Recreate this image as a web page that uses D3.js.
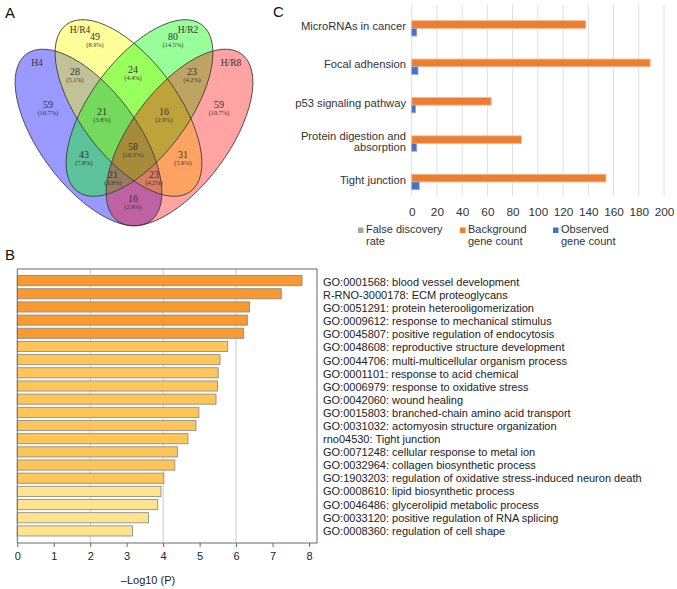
<!DOCTYPE html>
<html><head><meta charset="utf-8">
<script src="https://cdn.jsdelivr.net/npm/d3@7"></script>
<style>body{margin:0;background:#fff}svg{display:block}</style>
</head><body>
<svg id="chart" width="677" height="589"></svg>
<script>
// ---------- Panel A data (Venn) ----------
const vennSets = ["H4", "H/R4", "H/R2", "H/R8"];
const vennRegions = ["1", "2", "3", "4", "12", "23", "34", "123", "234", "1234", "13", "24", "134", "124", "14"];
const vennCounts = [59, 49, 80, 59, 28, 24, 23, 21, 16, 58, 43, 31, 21, 23, 16];

// ---------- Panel B data (GO enrichment) ----------
const goTerms = [
  "GO:0001568: blood vessel development",
  "R-RNO-3000178: ECM proteoglycans",
  "GO:0051291: protein heterooligomerization",
  "GO:0009612: response to mechanical stimulus",
  "GO:0045807: positive regulation of endocytosis",
  "GO:0048608: reproductive structure development",
  "GO:0044706: multi-multicellular organism process",
  "GO:0001101: response to acid chemical",
  "GO:0006979: response to oxidative stress",
  "GO:0042060: wound healing",
  "GO:0015803: branched-chain amino acid transport",
  "GO:0031032: actomyosin structure organization",
  "rno04530: Tight junction",
  "GO:0071248: cellular response to metal ion",
  "GO:0032964: collagen biosynthetic process",
  "GO:1903203: regulation of oxidative stress-induced neuron death",
  "GO:0008610: lipid biosynthetic process",
  "GO:0046486: glycerolipid metabolic process",
  "GO:0033120: positive regulation of RNA splicing",
  "GO:0008360: regulation of cell shape"
];
const goLogP = [7.81, 7.24, 6.37, 6.31, 6.21, 5.77, 5.56, 5.51, 5.49, 5.45,
                4.98, 4.90, 4.68, 4.39, 4.32, 4.02, 3.94, 3.85, 3.60, 3.16];
const bTicks = [0, 1, 2, 3, 4, 5, 6, 7, 8];
const bGrid = [2, 4, 6];

// ---------- Panel C data (KEGG) ----------
const keggCategories = ["MicroRNAs in cancer", "Focal adhension", "p53 signaling pathway",
                        "Protein digestion and absorption", "Tight junction"];
const cSeries = ["False discovery rate", "Background gene count", "Observed gene count"];
const fdrValues = [0.01, 0.01, 0.02, 0.02, 0.01];
const backgroundCounts = [138, 189, 63, 87, 154];
const observedCounts = [4, 5, 3, 4, 6];
const cTicks = [0, 20, 40, 60, 80, 100, 120, 140, 160, 180, 200];

const svg = d3.select("#chart");
const SANS = "'Liberation Sans', Arial, Helvetica, sans-serif";
const SERIF = "'Liberation Serif', 'Times New Roman', serif";

// panel letters
[["A", 5, 18], ["B", 5, 260], ["C", 273, 17]].forEach(([t, x, y]) =>
  svg.append("text").attr("x", x).attr("y", y).attr("font-family", SANS)
     .attr("font-size", 15).attr("fill", "#111").text(t));

// ================= Panel A =================
const gA = svg.append("g");
const ellipseLayout = [
  {cx: 88.5, cy: 137.5, rot: 53.3, fill: "#0000ff", op: 0.4},
  {cx: 128.5, cy: 108, rot: 53.3, fill: "#ffff00", op: 0.4},
  {cx: 139.5, cy: 108, rot: -53.3, fill: "#00ff00", op: 0.4},
  {cx: 179.5, cy: 137.5, rot: -53.3, fill: "#ff0000", op: 0.36}
];
const RX = 104, RY = 48.7;
gA.selectAll("ellipse.fill").data(ellipseLayout).join("ellipse")
  .attr("class", "fill")
  .attr("cx", 0).attr("cy", 0).attr("rx", RX).attr("ry", RY)
  .attr("transform", d => `translate(${d.cx},${d.cy}) rotate(${d.rot})`)
  .attr("fill", d => d.fill).attr("fill-opacity", d => d.op);
gA.selectAll("ellipse.outline").data(ellipseLayout).join("ellipse")
  .attr("class", "outline")
  .attr("cx", 0).attr("cy", 0).attr("rx", RX).attr("ry", RY)
  .attr("transform", d => `translate(${d.cx},${d.cy}) rotate(${d.rot})`)
  .attr("fill", "none").attr("stroke", "#3a3a3a").attr("stroke-width", 0.8);

const setLabelPos = [[37, 63], [80, 30], [188, 30], [231, 63]];
gA.selectAll("text.set").data(vennSets).join("text")
  .attr("class", "set")
  .attr("x", (d, i) => setLabelPos[i][0]).attr("y", (d, i) => setLabelPos[i][1])
  .attr("dy", "0.35em").attr("text-anchor", "middle")
  .attr("font-family", SERIF).attr("font-size", 9.5).attr("fill", "#333").text(d => d);

const regionPos = {
  "1": [48, 105], "2": [95, 37], "3": [173, 37], "4": [219, 105],
  "12": [75, 72], "23": [133, 70], "34": [192, 72],
  "123": [102, 112], "234": [164, 112], "1234": [133, 147],
  "13": [84, 155], "24": [183, 155], "134": [113, 175], "124": [154, 175], "14": [133, 199]
};
const total = d3.sum(vennCounts);
const pct = d3.format(".1%");
vennRegions.forEach((r, i) => {
  const [x, y] = regionPos[r];
  gA.append("text").attr("x", x).attr("y", y - 0.5).attr("dy", "0.35em")
    .attr("text-anchor", "middle").attr("font-family", SERIF).attr("font-size", 10)
    .attr("fill", "#333").text(vennCounts[i]);
  gA.append("text").attr("x", x).attr("y", y + 7.8).attr("dy", "0.35em")
    .attr("text-anchor", "middle").attr("font-family", SERIF).attr("font-size", 6.3)
    .attr("fill", "#333").text("(" + pct(vennCounts[i] / total) + ")");
});

// ================= Panel B =================
const gB = svg.append("g");
const bLeft = 17.3, bRight = 317, bTop = 269, bBottom = 543;
const bx = d3.scaleLinear().domain([0, 8.22]).range([bLeft, bRight]);
const by = d3.scaleBand().domain(d3.range(goTerms.length)).range([274, 537.5])
  .paddingInner(0.23).paddingOuter(0.115);
const bColor = d3.scaleThreshold().domain([4, 6]).range(["#FFE48F", "#FEC559", "#F89A30"]);

gB.selectAll("line.grid").data(bGrid).join("line").attr("class", "grid")
  .attr("x1", d => bx(d)).attr("x2", d => bx(d)).attr("y1", bTop).attr("y2", bBottom)
  .attr("stroke", "#c9c9c9").attr("stroke-width", 1);

gB.selectAll("rect.bar").data(goLogP).join("rect").attr("class", "bar")
  .attr("x", bx(0)).attr("y", (d, i) => by(i))
  .attr("width", d => bx(d) - bx(0)).attr("height", by.bandwidth())
  .attr("fill", d => bColor(d)).attr("stroke", "#8f8f8f").attr("stroke-width", 0.9);

gB.append("rect").attr("x", bLeft).attr("y", bTop).attr("width", bRight - bLeft)
  .attr("height", bBottom - bTop).attr("fill", "none").attr("stroke", "#6b6b6b").attr("stroke-width", 1);

const bAxis = gB.append("g").attr("transform", `translate(0,${bBottom})`)
  .call(d3.axisBottom(bx).tickValues(bTicks).tickSize(4).tickPadding(5).tickFormat(d3.format("d")));
bAxis.select(".domain").remove();
bAxis.selectAll("line").attr("stroke", "#6b6b6b");
bAxis.selectAll("text").attr("font-family", SANS).attr("font-size", 11).attr("fill", "#222");

gB.append("text").attr("x", 148).attr("y", 584).attr("text-anchor", "middle")
  .attr("font-family", SANS).attr("font-size", 11).attr("fill", "#222").text("\u2013Log10 (P)");

gB.selectAll("text.term").data(goTerms).join("text").attr("class", "term")
  .attr("x", 323).attr("y", (d, i) => by(i) + by.bandwidth() / 2 + 1.5 - i * 0.08)
  .attr("dy", "0.35em").attr("font-family", SANS).attr("font-size", 11)
  .attr("fill", "#222").text(d => d);

// ================= Panel C =================
const gC = svg.append("g");
const cxS = d3.scaleLinear().domain([0, 200]).range([411.7, 664]);
const cyS = d3.scaleBand().domain(keggCategories).range([5.3, 197.3]).paddingInner(0.4).paddingOuter(0.2);
const cSub = d3.scaleBand().domain(cSeries).range([0, cyS.bandwidth()]);
const cColors = ["#A5A5A5", "#ED7D31", "#4472C4"];
const cStroke = ["#c8c8c8", "#f6b994", "#8fa9dc"];

gC.selectAll("line.grid").data(cTicks).join("line").attr("class", "grid")
  .attr("x1", d => cxS(d)).attr("x2", d => cxS(d)).attr("y1", 5).attr("y2", 196)
  .attr("stroke", "#dedede").attr("stroke-width", 1);

const seriesValues = [fdrValues, backgroundCounts, observedCounts];
seriesValues.forEach((vals, s) => {
  gC.selectAll("rect.s" + s).data(vals).join("rect").attr("class", "s" + s)
    .attr("x", cxS(0)).attr("y", (d, i) => cyS(keggCategories[i]) + cSub(cSeries[s]))
    .attr("width", d => cxS(d) - cxS(0)).attr("height", cSub.bandwidth())
    .attr("fill", cColors[s]).attr("stroke", s === 0 ? "none" : cStroke[s]).attr("stroke-width", 0.9);
});

const cAxis = gC.append("g").attr("transform", "translate(0,200)")
  .call(d3.axisBottom(cxS).tickValues(cTicks).tickSize(0).tickPadding(8));
cAxis.select(".domain").remove();
cAxis.selectAll("text").attr("font-family", SANS).attr("font-size", 11.8).attr("fill", "#333");

// category labels with wrapping
const catFont = 11.2;
keggCategories.forEach(cat => {
  const t = gC.append("text").attr("font-family", SANS).attr("font-size", catFont)
    .attr("fill", "#333").attr("text-anchor", "end");
  const words = cat.split(" ");
  let lines = [], cur = [];
  words.forEach(w => {
    cur.push(w);
    t.text(cur.join(" "));
    if (t.node().getComputedTextLength() > 112 && cur.length > 1) {
      cur.pop(); lines.push(cur.join(" ")); cur = [w];
    }
  });
  lines.push(cur.join(" "));
  t.text(null);
  const cyMid = cyS(cat) + cyS.bandwidth() / 2;
  const lh = 11;
  lines.forEach((ln, k) => {
    t.append("tspan").attr("x", 406)
      .attr("y", cyMid + (k - (lines.length - 1) / 2) * lh + 1.5)
      .attr("dy", "0.35em").text(ln);
  });
});

// legend
const legendX = [358, 460, 553];
const legendFirstLineWords = [2, 1, 1];
cSeries.forEach((name, s) => {
  gC.append("rect").attr("x", legendX[s]).attr("y", 227.5).attr("width", 5.5).attr("height", 5.5)
    .attr("fill", cColors[s]);
  const words = name.split(" ");
  const l1 = words.slice(0, legendFirstLineWords[s]).join(" ");
  const l2 = words.slice(legendFirstLineWords[s]).join(" ");
  [l1, l2].forEach((ln, k) => {
    gC.append("text").attr("x", legendX[s] + 8).attr("y", 229 + k * 12.5).attr("dy", "0.35em")
      .attr("font-family", SANS).attr("font-size", 11).attr("fill", "#333").text(ln);
  });
});
</script>
</body></html>
